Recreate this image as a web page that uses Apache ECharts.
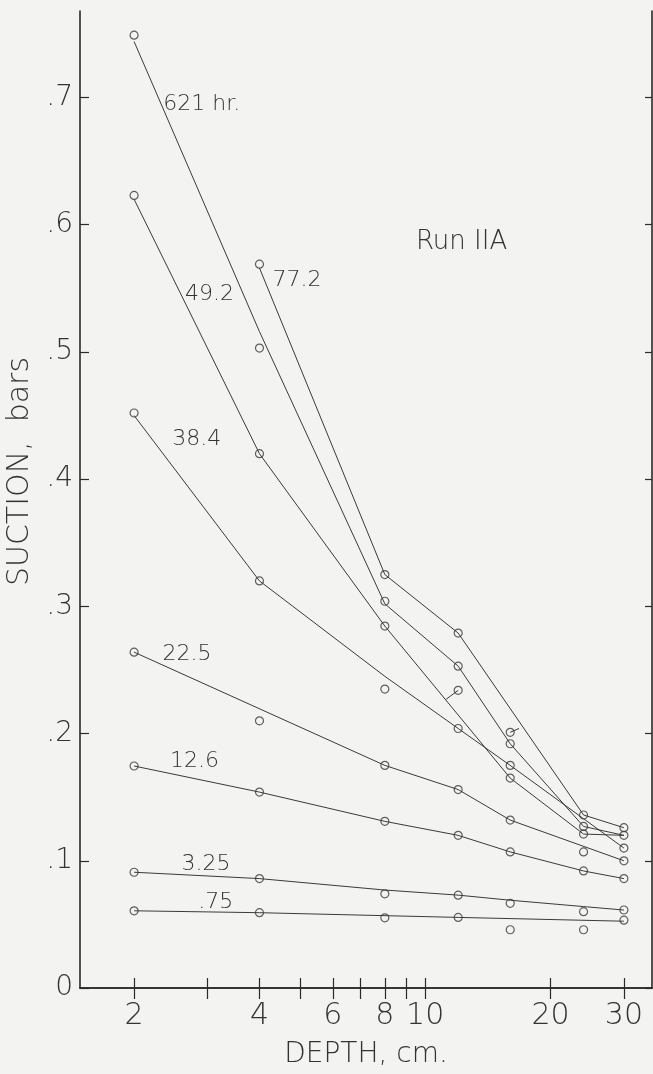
<!DOCTYPE html>
<html><head><meta charset="utf-8">
<script src="https://cdn.jsdelivr.net/npm/echarts@6/dist/echarts.min.js"></script>
<style>html,body{margin:0;padding:0;background:#f3f3f1}#c{width:653px;height:1074px}</style>
</head><body><div id="c"></div>
<script>
// ---- data ----
const depths = [2, 4, 8, 12, 16, 24, 30];
const xTickValues = [2, 3, 4, 5, 6, 7, 8, 9, 10, 20, 30];
const xLabelValues = [2, 4, 6, 8, 10, 20, 30];
const yTickValues = [0, 0.1, 0.2, 0.3, 0.4, 0.5, 0.6, 0.7];
const runNames = ['621 hr.', '77.2', '49.2', '38.4', '22.5', '12.6', '3.25', '.75'];

// measured suction (circles), per depth
const pts621 = [0.749, 0.503, 0.304, 0.253, 0.192, 0.127, null];
const pts772 = [null, 0.569, 0.325, 0.279, 0.201, 0.136, 0.126];
const pts492 = [0.623, 0.420, 0.2845, 0.234, 0.165, 0.121, 0.120];
const pts384 = [0.452, 0.320, 0.235, 0.204, 0.175, null, 0.110];
const pts225 = [0.264, 0.210, 0.175, 0.156, 0.132, 0.107, 0.100];
const pts126 = [0.1745, 0.154, 0.131, 0.120, 0.107, 0.092, 0.086];
const pts325 = [0.091, 0.086, 0.074, 0.073, 0.0666, 0.060, 0.0613];
const pts075 = [0.0607, 0.0592, 0.0552, 0.0555, 0.0458, 0.0458, 0.0533];

// drawn curves (where the hand-drawn line passes), per depth
const crv621 = [0.744, 0.516, 0.302, 0.253, 0.192, 0.127, 0.120];
const crv772 = [null, 0.566, 0.325, 0.279, null, 0.136, 0.126];
const crv492 = [0.620, 0.420, 0.2845, null, 0.165, 0.121, 0.120];
const crv384 = [0.450, 0.320, 0.245, 0.204, 0.175, null, 0.110];
const crv225 = [0.264, null, 0.175, 0.156, 0.132, null, 0.100];
const crv126 = [0.1745, 0.154, 0.131, 0.120, 0.107, 0.092, 0.086];
const crv325 = [0.091, 0.086, 0.077, 0.073, 0.069, 0.064, 0.0613];
const crv075 = [0.0607, 0.0592, null, 0.0555, null, null, 0.0525];

// short connector ticks joining off-curve circles to their curve: [depth, suction] pairs
const link492 = [[12, 0.234], [11.23, 0.227]];
const link772 = [[16, 0.201], [16.8, 0.204]];

const allPts = [pts621, pts772, pts492, pts384, pts225, pts126, pts325, pts075];
const allCrv = [crv621, crv772, crv492, crv384, crv225, crv126, crv325, crv075];

// ---- presentation ----
// label anchors in data space (depth, suction)
const labelAnchors = [[2.35, 0.695], [4.30, 0.556], [2.65, 0.545], [2.47, 0.431],
                      [2.34, 0.262], [2.44, 0.178], [2.60, 0.097], [2.85, 0.067]];
const INK = '#3a3a3a';
const FONT = 'DejaVu Sans';

const chart = echarts.init(document.getElementById('c'), null, {renderer: 'canvas'});
const series = [];
allCrv.forEach((crv, k) => {
  series.push({
    type: 'line', name: runNames[k], xAxisIndex: 0, yAxisIndex: 0,
    data: depths.map((d, i) => crv[i] == null ? [d, null] : [d, crv[i]]),
    connectNulls: true, showSymbol: false, symbol: 'none', silent: true,
    lineStyle: {color: INK, width: 1}, z: 2,
    markPoint: {
      symbol: 'circle', symbolSize: 0, silent: true,
      data: [{coord: labelAnchors[k], value: runNames[k]}],
      label: {show: true, position: 'right', distance: 0, formatter: runNames[k],
              fontFamily: FONT, fontWeight: 200, fontSize: 22, color: '#333'}
    }
  });
  series.push({
    type: 'scatter', name: runNames[k] + ' pts', xAxisIndex: 0, yAxisIndex: 0,
    data: depths.map((d, i) => [d, allPts[k][i]]).filter(p => p[1] != null),
    symbol: 'circle', symbolSize: 8, silent: true, z: 3,
    itemStyle: {color: 'rgba(0,0,0,0)', borderColor: INK, borderWidth: 1.2}
  });
});
[link492, link772].forEach(l => series.push({
  type: 'line', data: l, showSymbol: false, symbol: 'none', silent: true,
  lineStyle: {color: INK, width: 1}, z: 2
}));
// run title
series.push({
  type: 'scatter', xAxisIndex: 0, yAxisIndex: 0, data: [], silent: true,
  markPoint: {symbol: 'circle', symbolSize: 0, data: [{coord: [9.5, 0.586], value: 'Run IIA'}],
    label: {show: true, position: 'right', distance: 0, formatter: 'Run IIA',
            fontFamily: FONT, fontWeight: 200, fontSize: 26, color: '#333'}}
});

const xBase = {
  type: 'log', logBase: 10, min: 1.483, max: 35.04,
  axisLine: {show: true, lineStyle: {color: '#2a2a2a', width: 1.6}},
  splitLine: {show: false}, minorTick: {show: false}, minorSplitLine: {show: false}
};
const yBase = {
  type: 'value', min: 0, max: 0.768,
  axisLine: {show: true, lineStyle: {color: '#2a2a2a', width: 1.6}},
  splitLine: {show: false}
};

chart.setOption({
  backgroundColor: '#f3f3f1',
  animation: false,
  grid: {left: 80, right: 1, top: 11, bottom: 86, containLabel: false, outerBoundsMode: 'none'},
  xAxis: [
    Object.assign({}, xBase, {
      position: 'bottom',
      axisTick: {show: true, inside: true, length: 10, customValues: xTickValues,
                 lineStyle: {color: '#2a2a2a', width: 1.2}},
      axisLabel: {show: true, customValues: xLabelValues, margin: 13,
                  formatter: v => String(Math.round(v)),
                  fontFamily: FONT, fontWeight: 200, fontSize: 30, color: '#333'},
      name: 'DEPTH, cm.', nameLocation: 'middle', nameGap: 53,
      nameTextStyle: {fontFamily: FONT, fontWeight: 200, fontSize: 28, color: '#333'}
    }),
    Object.assign({}, xBase, {
      position: 'top',
      axisTick: {show: true, inside: true, length: 11, customValues: xTickValues,
                 lineStyle: {color: '#2a2a2a', width: 1.2}},
      axisLabel: {show: false}
    })
  ],
  yAxis: [
    Object.assign({}, yBase, {
      position: 'left',
      axisTick: {show: true, inside: true, length: 9, customValues: yTickValues,
                 lineStyle: {color: '#2a2a2a', width: 1.2}},
      axisLabel: {show: true, customValues: yTickValues, margin: 7,
                  formatter: v => v === 0 ? '0' : (Math.round(v * 10) / 10).toString().replace(/^0/, ''),
                  fontFamily: FONT, fontWeight: 200, fontSize: 28, color: '#333'},
      name: 'SUCTION,  bars', nameLocation: 'middle', nameGap: 40, nameRotate: 90,
      nameTextStyle: {fontFamily: FONT, fontWeight: 200, fontSize: 30, color: '#333',
                      padding: [0, 0, 0, 56]}
    }),
    Object.assign({}, yBase, {
      position: 'right',
      axisTick: {show: true, inside: true, length: 7, customValues: yTickValues,
                 lineStyle: {color: '#2a2a2a', width: 1.2}},
      axisLabel: {show: false}
    })
  ],
  series: series
});
</script></body></html>
